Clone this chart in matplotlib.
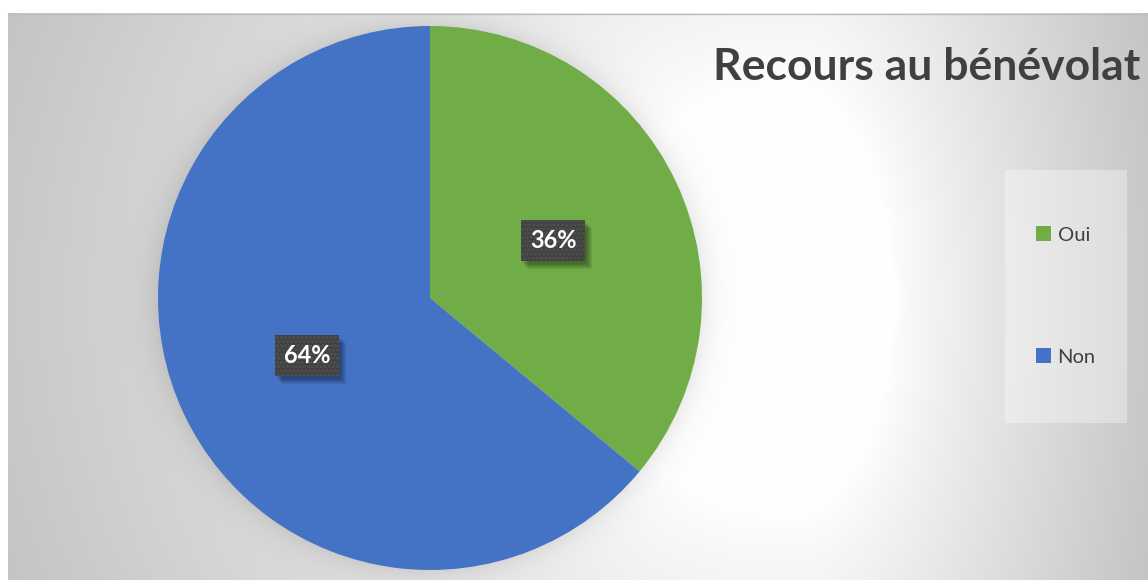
import numpy as np
import matplotlib
matplotlib.use("Agg")
import matplotlib.pyplot as plt
from matplotlib.patches import Rectangle
from matplotlib.transforms import IdentityTransform

# data
labels = ["Oui", "Non"]
shares = [36, 64]
colors = ["#70ad47", "#4472c4"]
title = "Recours au bénévolat"

W, H = 1148, 580
plt.rcParams['font.family'] = ['Lato', 'DejaVu Sans']
plt.rcParams['hatch.linewidth'] = 1.6

fig = plt.figure(figsize=(W / 100, H / 100), dpi=100)
ax = fig.add_axes([0, 0, 1, 1])

# background: soft radial gradient + shadow around the pie (pixel coords, y down)
cx, cy, R = 430, 298, 272
yy, xx = np.mgrid[13:H, 8:W] + 0.5
gx, gy = 790.0, 300.0
nx = np.where(xx < gx, (gx - xx) / (gx - 8), (xx - gx) / (W - gx))
ny = (yy - gy) / 750.0
t = np.sqrt(nx ** 2 + ny ** 2)
bg = 255 - 72 * np.clip(t - 0.28, 0, None) ** 0.85
d = np.hypot(xx - cx, yy - cy)
bg = bg - 20 * np.exp(-np.clip(d - R, 0, None) / 13.0)
bg = np.clip(bg, 0, 255) / 255.0
ax.imshow(np.dstack([bg, bg, bg]), extent=(8, W, 0, H - 13), origin="upper",
          interpolation="bilinear", zorder=0)
ax.plot([8, W], [H - 13.5, H - 13.5], color="#bdbdbd", lw=1, zorder=1)

wedges, texts, autotexts = ax.pie(
    shares, colors=colors, startangle=90, counterclock=False,
    center=(cx, H - cy), radius=R, autopct="%1.0f%%", pctdistance=0.5,
    wedgeprops=dict(linewidth=0, zorder=2),
    textprops=dict(color="white", fontsize=17, fontweight="bold"))

for t_ in autotexts:
    t_.set_zorder(5)
    t_.set_bbox(dict(boxstyle="square,pad=0.38", fc="#404040", ec="#525252",
                     lw=0, hatch="...."))

ax.set_xlim(0, W)
ax.set_ylim(0, H)
ax.set_aspect("equal")
ax.axis("off")

ax.text(1140, H - 80, title, ha="right", va="baseline", fontsize=32,
        fontweight="bold", color="#404040", zorder=6)

# legend
ax.add_patch(Rectangle((1005, H - 423), 122, 253, facecolor="white",
                       alpha=0.35, edgecolor="none", zorder=3))
leg = ax.legend(wedges, labels, loc="center", bbox_to_anchor=(1066, H - 296),
                bbox_transform=ax.transData, frameon=False, fontsize=14.5,
                labelspacing=5.2, handlelength=0.75, handleheight=0.75,
                handletextpad=0.3)
for txt in leg.get_texts():
    txt.set_color("#404040")

# soft shadow behind the label boxes, stacked translucent rectangles
fig.canvas.draw()
for t_ in autotexts:
    bb = t_.get_bbox_patch().get_window_extent()
    for k in (8, 7, 6, 5, 4, 3):
        ax.add_patch(Rectangle((bb.x0 + k - 1, bb.y0 - k), bb.width, bb.height,
                               transform=IdentityTransform(), facecolor="black",
                               edgecolor="none", alpha=0.07, zorder=4))

fig.savefig("out.png", dpi=100, facecolor="white")
